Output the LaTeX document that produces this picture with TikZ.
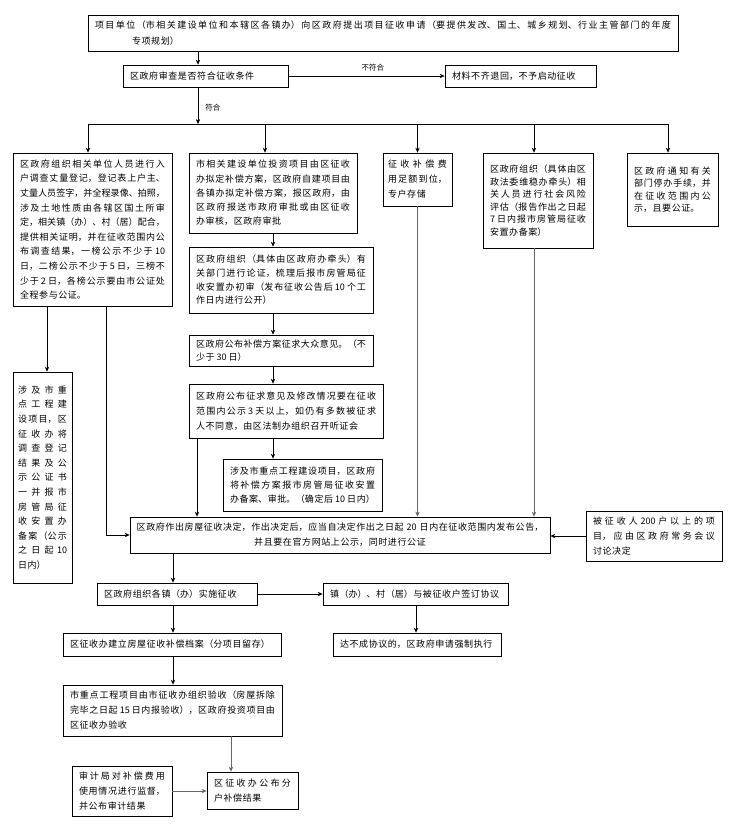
\documentclass[tikz,border=0pt]{standalone}
\usepackage{fontspec}
\setmainfont{Noto Sans CJK SC}
\usetikzlibrary{arrows.meta}
\XeTeXlinebreaklocale "zh"
\XeTeXlinebreakskip=0.6pt plus 3pt minus 0.6pt
\begin{document}
\begin{tikzpicture}[x=1pt,y=-1pt,
  bx/.style={draw, line width=0.7pt, inner xsep=7pt, inner ysep=0pt, align=justify, font=\fontsize{9}{14.6}\selectfont},
  arr/.style={-{Stealth[length=5pt,width=4.4pt]}, line width=0.7pt},
  garr/.style={arr, draw=black!60},
  ln/.style={line width=0.7pt},
  lbl/.style={font=\fontsize{7.5}{9}\selectfont, inner sep=1pt}]
\useasboundingbox[fill=white] (0,0) rectangle (743,831);

% x positions of connectors
\coordinate (x47) at (47,0);
\coordinate (x106) at (106,0);
\coordinate (x173) at (173,0);
\coordinate (x197) at (197,0);
\coordinate (x231) at (231,0);
\coordinate (x273) at (273,0);
\coordinate (x416) at (416,0);
\coordinate (x534) at (534,0);
\coordinate (bT) at (198,124);
\coordinate (busL) at (88,124);
\coordinate (busR) at (668,124);
\coordinate (bB) at (265,124);
\coordinate (bD) at (534,124);

% nodes
\node[bx, text width=576pt, minimum height=36pt, font=\fontsize{9}{16}\selectfont] (T) at (383,33)
 {项目单位（市相关建设单位和本辖区各镇办）向区政府提出项目征收申请（要提供发改、国土、城乡规划、行业主管部门的年度\linebreak\hspace*{37pt}专项规划）};
\node[bx, text width=151pt, minimum height=22pt, align=left] (R) at (205.5,76) {区政府审查是否符合征收条件};
\node[bx, text width=137pt, minimum height=22pt, align=left] (X) at (520.5,76) {材料不齐退回，不予启动征收};

\node[bx, text width=145pt, minimum height=153pt] (A) at (92.5,229.5)
 {区政府组织相关单位人员进行入\linebreak 户调查丈量登记，登记表上户主、\linebreak 丈量人员签字，并全程录像、拍照，\linebreak 涉及土地性质由各辖区国土所审\linebreak 定，相关镇（办）、村（居）配合，\linebreak 提供相关证明，并在征收范围内公\linebreak 布调查结果，一榜公示不少于 10\linebreak 日，二榜公示不少于 5 日，三榜不\linebreak 少于 2 日，各榜公示要由市公证处\linebreak 全程参与公证。};
\node[bx, text width=154pt, minimum height=80pt, font=\fontsize{9}{14.3}\selectfont] (B) at (273,193)
 {市相关建设单位投资项目由区征收\linebreak 办拟定补偿方案，区政府自建项目由\linebreak 各镇办拟定补偿方案，报区政府，由\linebreak 区政府报送市政府审批或由区征收\linebreak 办审核，区政府审批};
\node[bx, inner xsep=5pt, text width=59pt, minimum height=53pt, font=\fontsize{9}{15}\selectfont] (C) at (417.5,179.5)
 {征收补偿费\linebreak 用足额到位，\linebreak 专户存储};
\node[bx, text width=96pt, minimum height=95pt, font=\fontsize{9}{12.5}\selectfont] (D) at (538,200.5)
 {区政府组织（具体由区\linebreak 政法委维稳办牵头）相\linebreak 关人员进行社会风险\linebreak 评估（报告作出之日起\linebreak 7 日内报市房管局征收\linebreak 安置办备案）\par\vspace{12pt}};
\node[bx, text width=77pt, minimum height=73pt, font=\fontsize{9}{12.5}\selectfont] (E) at (672.5,189.5)
 {区政府通知有关\linebreak 部门停办手续，并\linebreak 在征收范围内公\linebreak 示，且要公证。\par\vspace{15pt}};

\node[bx, text width=170pt, minimum height=66pt, font=\fontsize{9}{13.7}\selectfont] (B2) at (281,280)
 {区政府组织（具体由区政府办牵头）有\linebreak 关部门进行论证，梳理后报市房管局征\linebreak 收安置办初审（发布征收公告后 10 个工\linebreak 作日内进行公开）};
\node[bx, text width=170pt, minimum height=31pt, font=\fontsize{9}{12.5}\selectfont] (B3) at (281,350.5)
 {区政府公布补偿方案征求大众意见。（不\linebreak 少于 30 日）};
\node[bx, text width=180pt, minimum height=54pt, font=\fontsize{9}{15}\selectfont] (B4) at (286,411)
 {区政府公布征求意见及修改情况要在征收\linebreak 范围内公示 3 天以上，如仍有多数被征求\linebreak 人不同意，由区法制办组织召开听证会};
\node[bx, text width=145pt, minimum height=52pt, font=\fontsize{9}{14}\selectfont] (B5) at (302.5,485)
 {涉及市重点工程建设项目，区政府\linebreak 将补偿方案报市房管局征收安置\linebreak 办备案、审批。（确定后 10 日内）};

\node[bx, inner xsep=5pt, text width=49pt, minimum height=211pt] (A2) at (42.5,477.5)
 {涉及市重\linebreak 点工程建\linebreak 设项目，区\linebreak 征收办将\linebreak 调查登记\linebreak 结果及公\linebreak 示公证书\linebreak 一并报市\linebreak 房管局征\linebreak 收安置办\linebreak 备案（公示\linebreak 之日起 10\linebreak 日内）\par\vspace{14pt}};

\node[bx, inner xsep=5pt, text width=410pt, minimum height=36pt, align=center, font=\fontsize{9}{15}\selectfont] (F) at (340,535)
 {\XeTeXlinebreakskip=0.6pt minus 0.6pt\relax 区政府作出房屋征收决定，作出决定后，应当自决定作出之日起 20 日内在征收范围内发布公告，\\并且要在官方网站上公示，同时进行公证};
\node[bx, text width=122pt, minimum height=50pt, font=\fontsize{9}{15}\selectfont] (G) at (654,536)
 {被征收人 200 户以上的项\linebreak 目，应由区政府常务会议\linebreak 讨论决定};

\node[bx, text width=146pt, minimum height=22pt, align=left] (H) at (177,594) {区政府组织各镇（办）实施征收};
\node[bx, text width=171pt, minimum height=22pt, align=left] (I) at (415.5,594) {镇（办）、村（居）与被征收户签订协议};
\node[bx, text width=204pt, minimum height=23pt, align=left] (J) at (172,644.5) {区征收办建立房屋征收补偿档案（分项目留存）};
\node[bx, text width=154pt, minimum height=23pt, align=left] (K) at (417,644.5) {达不成协议的，区政府申请强制执行};
\node[bx, text width=205pt, minimum height=51pt, font=\fontsize{9}{15}\selectfont] (L) at (172.5,710.5)
 {市重点工程项目由市征收办组织验收（房屋拆除\linebreak 完毕之日起 15 日内报验收），区政府投资项目由\linebreak 区征收办验收};
\node[bx, text width=77pt, minimum height=37pt, font=\fontsize{9}{15}\selectfont] (M) at (252.5,790.5)
 {区征收办公布分\linebreak 户补偿结果};
\node[bx, text width=86pt, minimum height=50pt, font=\fontsize{9}{15}\selectfont] (N) at (122,791)
 {审计局对补偿费用\linebreak 使用情况进行监督，\linebreak 并公布审计结果};

% connectors
\draw[arr] (bT |- T.south) -- (bT |- R.north);
\draw[arr] (R.east) -- node[lbl, pos=0.54, above=4pt] {不符合} (X.west);
\draw[arr] (bT |- R.south) -- node[lbl, pos=0.55, right=6pt] {符合} (bT);
\draw[ln] (busL) -- (busR);
\draw[arr] (busL) -- (busL |- A.north);
\draw[arr] (bB) -- (bB |- B.north);
\draw[arr] (C.north |- busL) -- (C.north);
\draw[arr] (bD) -- (bD |- D.north);
\draw[arr] (busR) -- (busR |- E.north);

\draw[arr] (x273 |- B.south) -- (x273 |- B2.north);
\draw[arr] (x273 |- B2.south) -- (x273 |- B3.north);
\draw[arr] (x273 |- B3.south) -- (x273 |- B4.north);
\draw[arr] (x273 |- B4.south) -- (x273 |- B5.north);
\draw[arr] (x197 |- B4.south) -- (x197 |- F.north);

\draw[arr] (x47 |- A.south) -- (x47 |- A2.north);
\draw[arr] (x106 |- A.south) |- (F.west);
\draw[garr] (C.south) -- (C.south |- F.north);
\draw[garr] (x534 |- D.south) -- (x534 |- F.north);
\draw[arr] (G.west) -- (G.west -| F.east);

\draw[arr] (x173 |- F.south) -- (x173 |- H.north);
\draw[arr] (H.east) -- (H.east -| I.west);
\draw[arr] (x173 |- H.south) -- (x173 |- J.north);
\draw[arr] (x416 |- I.south) -- (x416 |- K.north);
\draw[arr] (x173 |- J.south) -- (x173 |- L.north);
\draw[garr] (x231 |- L.south) -- (x231 |- M.north);
\draw[garr] (N.east) -- (N.east -| M.west);
\end{tikzpicture}
\end{document}
